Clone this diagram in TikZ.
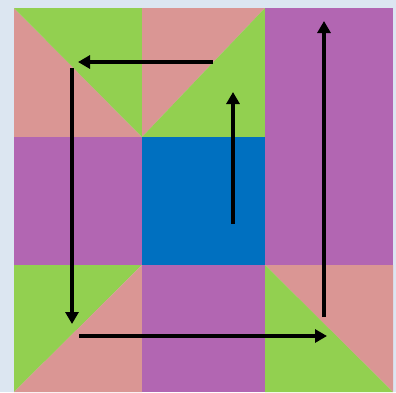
\documentclass[tikz,border=0pt]{standalone}
\usepackage{tikz}
\usetikzlibrary{arrows.meta}

\definecolor{bgblue}{HTML}{DCE6F1}
\definecolor{tilegreen}{HTML}{92D050}
\definecolor{tilepink}{HTML}{DA9694}
\definecolor{tilepurple}{HTML}{B266B2}
\definecolor{tileblue}{HTML}{0070C0}

\begin{document}
\begin{tikzpicture}[
        x=1pt, y=-1pt,
        tile_green/.style={fill=tilegreen, draw=none},
        tile_pink/.style={fill=tilepink, draw=none},
        tile_purple/.style={fill=tilepurple, draw=none},
        tile_blue/.style={fill=tileblue, draw=none},
        arrow/.style={-{Triangle[length=12pt, width=13pt]}, line width=3.4pt, black}
    ]

    % ==================== Background ====================
    \fill[bgblue] (0, 0) rectangle (396, 392);
    \useasboundingbox (0, 0) rectangle (396, 392);

    % ==================== Top row ====================
    \fill[tile_pink] (14, 8) -- (142, 137) -- (14, 137) -- cycle;
    \fill[tile_green] (14, 8) -- (142, 8) -- (142, 137) -- cycle;

    \fill[tile_pink] (142, 8) -- (265, 8) -- (142, 137) -- cycle;
    \fill[tile_green] (265, 8) -- (265, 137) -- (142, 137) -- cycle;

    \fill[tile_purple] (265, 8) rectangle (393, 265);

    % ==================== Middle row ====================
    \fill[tile_purple] (14, 137) rectangle (142, 265);
    \fill[tile_blue] (142, 137) rectangle (265, 265);

    % ==================== Bottom row ====================
    \fill[tile_green] (14, 265) -- (142, 265) -- (14, 392) -- cycle;
    \fill[tile_pink] (142, 265) -- (142, 392) -- (14, 392) -- cycle;

    \fill[tile_purple] (142, 265) rectangle (265, 392);

    \fill[tile_pink] (265, 265) -- (393, 265) -- (393, 392) -- cycle;
    \fill[tile_green] (265, 265) -- (393, 392) -- (265, 392) -- cycle;

    % ==================== Arrow ends ====================
    \coordinate (top_start) at (213, 62);
    \coordinate (top_end) at (78, 62);
    \coordinate (left_start) at (72, 68);
    \coordinate (left_end) at (72, 324);
    \coordinate (bottom_start) at (79, 336);
    \coordinate (bottom_end) at (327, 336);
    \coordinate (right_start) at (324, 317);
    \coordinate (right_end) at (324, 21);
    \coordinate (centre_start) at (233, 224);
    \coordinate (centre_end) at (233, 92);

    % ==================== Arrows ====================
    \draw[arrow] (top_start) -- (top_end);
    \draw[arrow] (left_start) -- (left_end);
    \draw[arrow] (bottom_start) -- (bottom_end);
    \draw[arrow] (right_start) -- (right_end);
    \draw[arrow] (centre_start) -- (centre_end);

\end{tikzpicture}
\end{document}
